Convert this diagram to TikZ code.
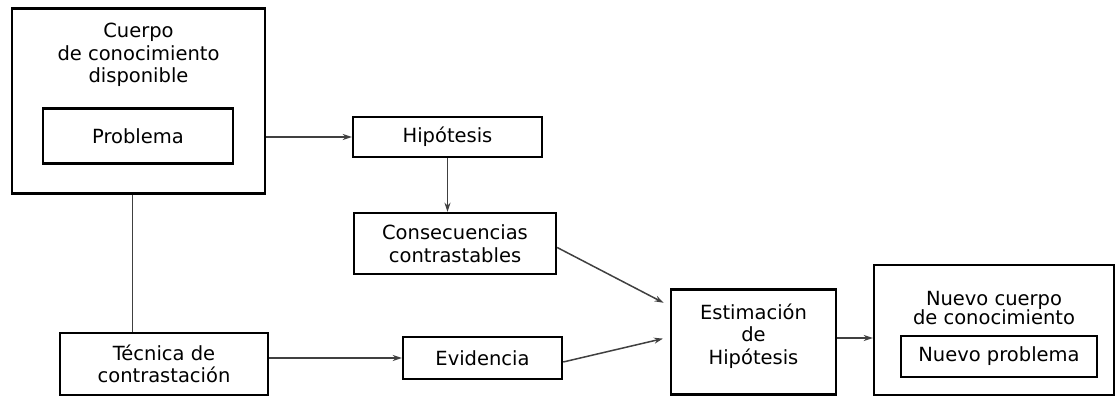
\documentclass[tikz,border=0pt]{standalone}
\usepackage{fontspec}
\setmainfont{DejaVu Sans}
\usetikzlibrary{arrows.meta}

\begin{document}
\begin{tikzpicture}[x=1pt,y=-1pt,
  caja/.style={draw=black,line width=2.4pt,inner sep=0pt,align=center},
  texto/.style={inner sep=0pt,align=center},
  enlace/.style={draw=black!75,line width=1.5pt},
  flecha/.style={enlace,-{Stealth[length=9pt,width=6pt]}},
  every node/.style={font=\fontsize{19.5}{22.5}\selectfont}]
\useasboundingbox (0,0) rectangle (1115,398);

\node[caja,minimum width=253,minimum height=185] (cuerpo) at (138.5,101) {};
\node[texto] (cuerpotxt) at (138.5,55) {Cuerpo\\de conocimiento\\disponible};
\node[caja,minimum width=190,minimum height=55] (problema) at (138,136) {Problema};
\node[caja,minimum width=208,minimum height=62] (tecnica) at (164,364) {Técnica de\\contrastación};
\node[caja,minimum width=189,minimum height=40] (hipotesis) at (447.5,137) {Hipótesis};
\node[caja,minimum width=202,minimum height=61] (consec) at (455,243.5) {Consecuencias\\contrastables};
\node[caja,minimum width=159,minimum height=42] (evidencia) at (482.5,358) {Evidencia};
\node[caja,minimum width=165,minimum height=105] (estimacion) at (753.5,342) {};
\node[texto] (estimtxt) at (753.5,336) {Estimación\\de\\Hipótesis};
\node[caja,minimum width=240,minimum height=130] (nuevo) at (994,330) {};
\node[texto,font=\fontsize{19.5}{18}\selectfont] (nuevotxt) at (994,308) {Nuevo cuerpo\\de conocimiento};
\node[caja,minimum width=196,minimum height=41] (nuevoprob) at (999,356.5) {Nuevo problema};

\draw[flecha] (cuerpo.east |- hipotesis.west) -- (hipotesis.west);
\draw[flecha] (hipotesis.south) -- (hipotesis.south |- consec.north);
\draw[enlace] ([xshift=-6]cuerpo.south) -- ([xshift=-6]cuerpo.south |- tecnica.north);
\draw[flecha] (tecnica.east |- evidencia.west) -- (evidencia.west);
\draw[flecha,shorten >=7pt] ([yshift=-4]consec.east) -- ([yshift=36]estimacion.west);
\draw[flecha,shorten >=7pt] ([yshift=-4]evidencia.east) -- ([yshift=5]estimacion.west);
\draw[flecha] ([yshift=4]estimacion.east) -- ([yshift=4]estimacion.east -| nuevo.west);

\end{tikzpicture}
\end{document}
